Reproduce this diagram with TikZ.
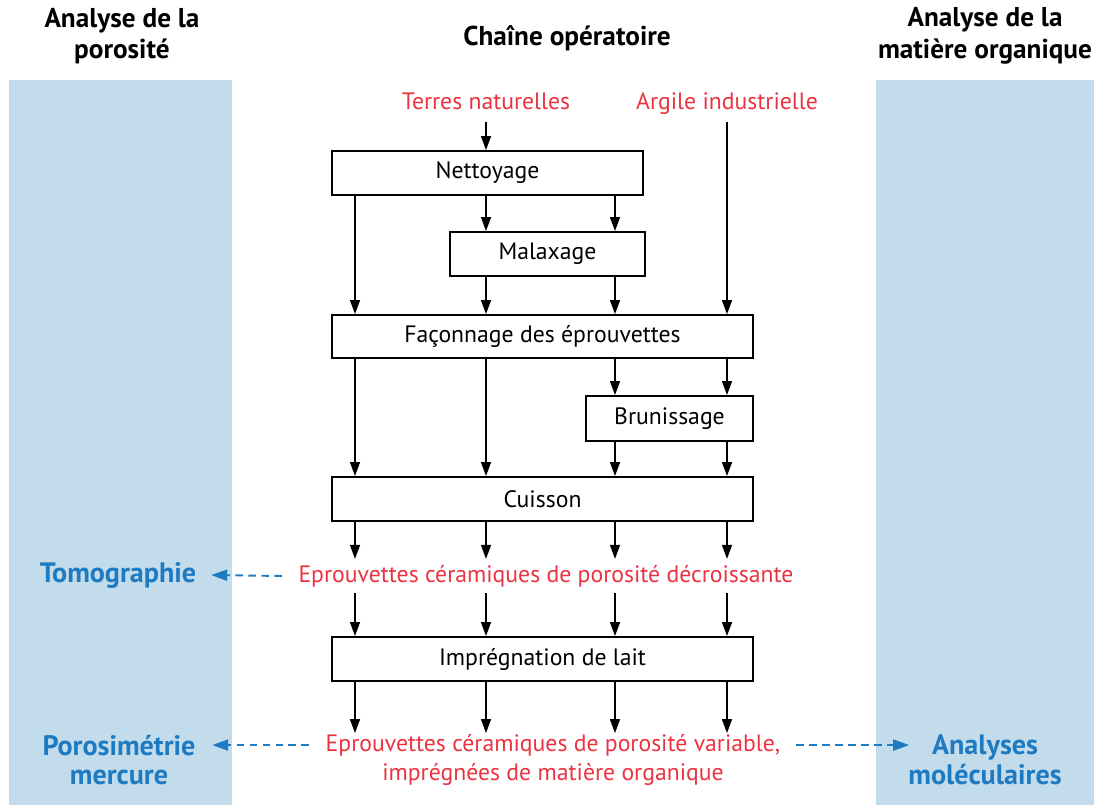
\documentclass[tikz,border=0pt]{standalone}
\usepackage{fontspec}
\setmainfont{PT Sans}
\usetikzlibrary{arrows.meta}
\definecolor{bande}{HTML}{C3DCEB}
\definecolor{rouge}{HTML}{EB3340}
\definecolor{bleu}{HTML}{1E7BC2}
\tikzset{
  etape/.style={draw, line width=1.1pt, inner sep=0pt, font=\fontsize{13.5}{16}\selectfont},
  produit/.style={text=rouge, align=center, font=\fontsize{13.5}{17}\selectfont},
  titre/.style={align=center, font=\fontsize{15.5}{18}\selectfont\bfseries},
  analyse/.style={text=bleu, align=center, font=\fontsize{16}{17}\selectfont\bfseries},
  fleche/.style={-{Triangle[length=2.8mm,width=2mm]}, line width=0.8pt},
  lien/.style={-{Triangle[length=3.2mm,width=2.2mm]}, bleu, line width=1.1pt, dash pattern=on 1.5mm off 1.1mm},
}
\begin{document}
\begin{tikzpicture}[x=0.02cm, y=-0.02cm]
\useasboundingbox (0,0) rectangle (1094,805);
% bandes
\fill[bande] (9,80) rectangle (232,805);
\fill[bande] (876,80) rectangle (1094,805);
% titres
\node[titre] (tpor) at (122,36) {Analyse de la\\porosité};
\node[titre] (tchaine) at (567,38) {Chaîne opératoire};
\node[titre] (tmat) at (985,36) {Analyse de la\\matière organique};
% matieres premieres
\node[produit, anchor=base] (terres) at (486,109) {Terres naturelles};
\node[produit, anchor=base] (argile) at (727,109) {Argile industrielle};
% etapes
\node[etape, minimum width=6.22cm, minimum height=0.88cm] (nett) at (487.5,173) {Nettoyage};
\node[etape, minimum width=3.9cm, minimum height=0.88cm] (mal) at (547.5,254) {Malaxage};
\node[etape, minimum width=8.42cm, minimum height=0.86cm] (fac) at (542.5,336.5) {Façonnage des éprouvettes};
\node[etape, minimum width=3.34cm, minimum height=0.9cm] (brun) at (669.5,418.5) {Brunissage};
\node[etape, minimum width=8.42cm, minimum height=0.88cm] (cuis) at (542.5,499) {Cuisson};
\node[produit] (epr) at (546,576) {Eprouvettes céramiques de porosité décroissante};
\node[etape, minimum width=8.42cm, minimum height=0.88cm] (impr) at (542.5,659) {Imprégnation de lait};
\node[produit] (final) at (553,760) {Eprouvettes céramiques de porosité variable,\\imprégnées de matière organique};
% analyses
\node[analyse] (tomo) at (118,575) {Tomographie};
\node[analyse] (poro) at (119,760) {Porosimétrie\\mercure};
\node[analyse] (mol) at (985,760) {Analyses\\moléculaires};
% colonnes
\coordinate (c1) at (355,0);
\coordinate (c2) at (486,0);
\coordinate (c3) at (615,0);
\coordinate (c4) at (727,0);
% fleches
\draw[fleche] (c2 |- 0,122) -- (c2 |- nett.north);
\draw[fleche] (c4 |- 0,122) -- (c4 |- fac.north);
\draw[fleche] (c1 |- nett.south) -- (c1 |- fac.north);
\foreach \c in {c2,c3} {
  \draw[fleche] (\c |- nett.south) -- (\c |- mal.north);
  \draw[fleche] (\c |- mal.south) -- (\c |- fac.north);
}
\foreach \c in {c1,c2} \draw[fleche] (\c |- fac.south) -- (\c |- cuis.north);
\foreach \c in {c3,c4} {
  \draw[fleche] (\c |- fac.south) -- (\c |- brun.north);
  \draw[fleche] (\c |- brun.south) -- (\c |- cuis.north);
}
\foreach \c in {c1,c2,c3,c4} {
  \draw[fleche] (\c |- cuis.south) -- (\c |- epr.north);
  \draw[fleche] (\c |- epr.south) -- (\c |- impr.north);
  \draw[fleche] (\c |- impr.south) -- ([yshift=-3pt]\c |- final.north);
}
% liens vers analyses
\draw[lien] ([xshift=-6pt]epr.west) -- ([xshift=5pt]tomo.east);
\draw[lien] ([xshift=-6pt,yshift=8.5pt]final.west) -- ([xshift=6pt,yshift=8.5pt]poro.east);
\draw[lien] ([xshift=5.5pt,yshift=8.5pt]final.east) -- ([xshift=4pt,yshift=8.5pt]mol.west);
\end{tikzpicture}
\end{document}
